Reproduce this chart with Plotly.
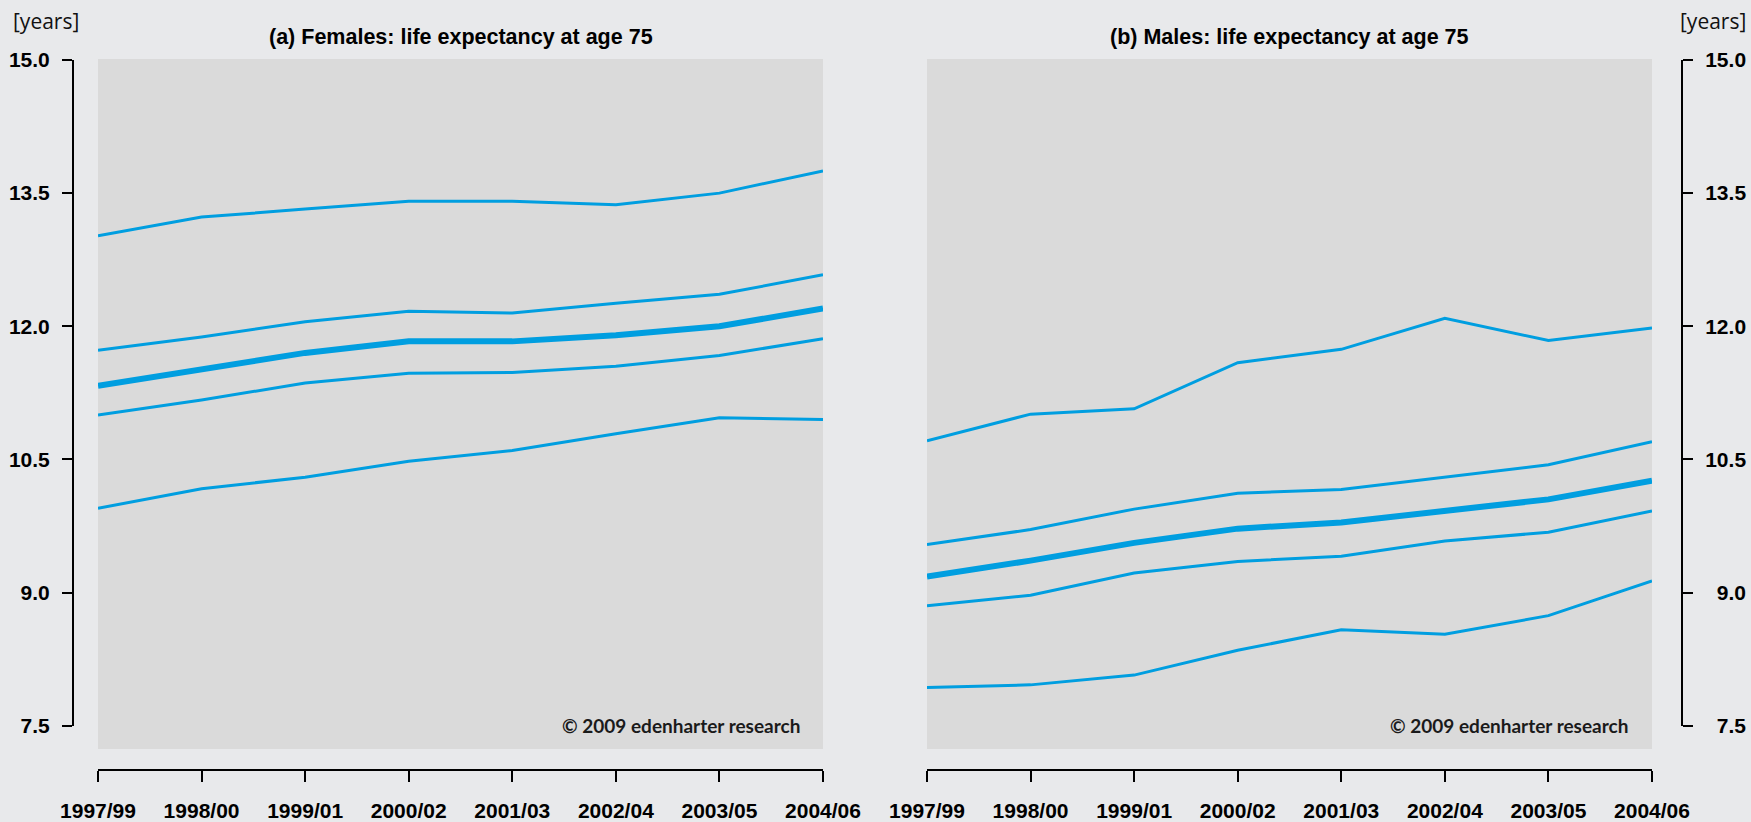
import plotly.graph_objects as go

# ---------------- data ----------------
periods = ["1997/99", "1998/00", "1999/01", "2000/02", "2001/03", "2002/04", "2003/05", "2004/06"]

females_1 = [13.02, 13.23, 13.32, 13.41, 13.41, 13.37, 13.50, 13.75]
females_2 = [11.73, 11.88, 12.05, 12.17, 12.15, 12.26, 12.36, 12.58]
females_mean = [11.33, 11.52, 11.70, 11.83, 11.83, 11.90, 12.00, 12.20]
females_4 = [11.00, 11.17, 11.36, 11.47, 11.48, 11.55, 11.67, 11.86]
females_5 = [9.95, 10.17, 10.30, 10.48, 10.60, 10.79, 10.97, 10.95]

males_1 = [10.71, 11.01, 11.07, 11.59, 11.74, 12.09, 11.84, 11.98]
males_2 = [9.54, 9.71, 9.94, 10.12, 10.16, 10.30, 10.44, 10.70]
males_mean = [9.18, 9.36, 9.56, 9.72, 9.79, 9.92, 10.05, 10.26]
males_4 = [8.85, 8.97, 9.22, 9.35, 9.41, 9.58, 9.68, 9.92]
males_5 = [7.93, 7.96, 8.07, 8.35, 8.58, 8.53, 8.74, 9.13]

y_ticks = [7.5, 9.0, 10.5, 12.0, 13.5, 15.0]
y_ticktext = ["7.5", "9.0", "10.5", "12.0", "13.5", "15.0"]

titles = ["(a) Females: life expectancy at age 75", "(b) Males: life expectancy at age 75"]
unit_label = "[years]"
credit = "© 2009 edenharter research"

# ---------------- layout helpers ----------------
W, H = 1751, 822
BLUE = "#009ee0"
PANEL = "#dadada"
BG = "#e8e9eb"


def fx(p):
    return p / W


def fy(p):
    return 1 - p / H


left_px = (98, 823)
right_px = (927, 1652)
y_top_px, y_bot_px = 60, 725.7   # pixel rows of 15.0 and 7.5
panel_top_px, panel_bot_px = 59, 749

fig = go.Figure()

female_series = [females_1, females_2, females_mean, females_4, females_5]
male_series = [males_1, males_2, males_mean, males_4, males_5]
widths = [3, 3, 6, 3, 3]

for s, w in zip(female_series, widths):
    fig.add_trace(go.Scatter(x=periods, y=s, mode="lines", xaxis="x", yaxis="y",
                             line=dict(color=BLUE, width=w), hoverinfo="skip", showlegend=False))
for s, w in zip(male_series, widths):
    fig.add_trace(go.Scatter(x=periods, y=s, mode="lines", xaxis="x2", yaxis="y2",
                             line=dict(color=BLUE, width=w), hoverinfo="skip", showlegend=False))

tickfont = dict(family="Liberation Sans, Arial, sans-serif", size=21, color="black", weight="bold")

xcommon = dict(type="category", range=[0, 7], anchor="free", position=fy(770),
               showline=True, linewidth=2, linecolor="black", ticks="outside",
               ticklen=11, tickwidth=2, tickcolor="black", showgrid=False, zeroline=False,
               tickfont=tickfont, ticklabelstandoff=11, fixedrange=True, automargin=False)
ycommon = dict(range=[7.5, 15], domain=[fy(y_bot_px), fy(y_top_px)], anchor="free",
               showline=True, linewidth=2, linecolor="black", ticks="outside",
               ticklen=10, tickwidth=2, tickcolor="black", showgrid=False, zeroline=False,
               tickmode="array", tickvals=y_ticks, tickfont=tickfont, fixedrange=True,
               automargin=False)

right_text = ["\u00a0\u00a0" + t if len(t) == 3 else t for t in y_ticktext]

fig.update_layout(
    width=W, height=H,
    margin=dict(l=0, r=0, t=0, b=0, pad=0, autoexpand=False),
    paper_bgcolor=BG, plot_bgcolor="rgba(0,0,0,0)",
    xaxis=dict(domain=[fx(left_px[0]), fx(left_px[1])], **xcommon),
    xaxis2=dict(domain=[fx(right_px[0]), fx(right_px[1])], **xcommon),
    yaxis=dict(position=fx(73), side="left", ticktext=y_ticktext, ticklabelstandoff=8, **ycommon),
    yaxis2=dict(position=fx(1682), side="right", ticktext=right_text, ticklabelstandoff=8, **ycommon),
    showlegend=False,
)

# panel backgrounds
for (a, b) in (left_px, right_px):
    fig.add_shape(type="rect", xref="paper", yref="paper",
                  x0=fx(a), x1=fx(b), y0=fy(panel_bot_px), y1=fy(panel_top_px),
                  fillcolor=PANEL, line=dict(width=0), layer="below")

title_font = dict(family="Liberation Sans, Arial, sans-serif", size=21.5, color="black", weight="bold")
for (a, b), t in zip((left_px, right_px), titles):
    fig.add_annotation(text=t, xref="paper", yref="paper", x=fx((a + b) / 2), y=fy(37),
                       xanchor="center", yanchor="middle", showarrow=False, font=title_font)

unit_font = dict(family="Open Sans, sans-serif", size=21, color="#111111")
fig.add_annotation(text=unit_label, xref="paper", yref="paper", x=fx(11), y=fy(21),
                   xanchor="left", yanchor="middle", showarrow=False, font=unit_font)
fig.add_annotation(text=unit_label, xref="paper", yref="paper", x=fx(1748), y=fy(21),
                   xanchor="right", yanchor="middle", showarrow=False, font=unit_font)

credit_font = dict(family="Lato, sans-serif", size=19, color="#1a1a1a", weight="bold")
for xr in (802, 1630):
    fig.add_annotation(text=credit, xref="paper", yref="paper", x=fx(xr), y=fy(725),
                       xanchor="right", yanchor="middle", showarrow=False, font=credit_font)

fig.write_html("out.html")
